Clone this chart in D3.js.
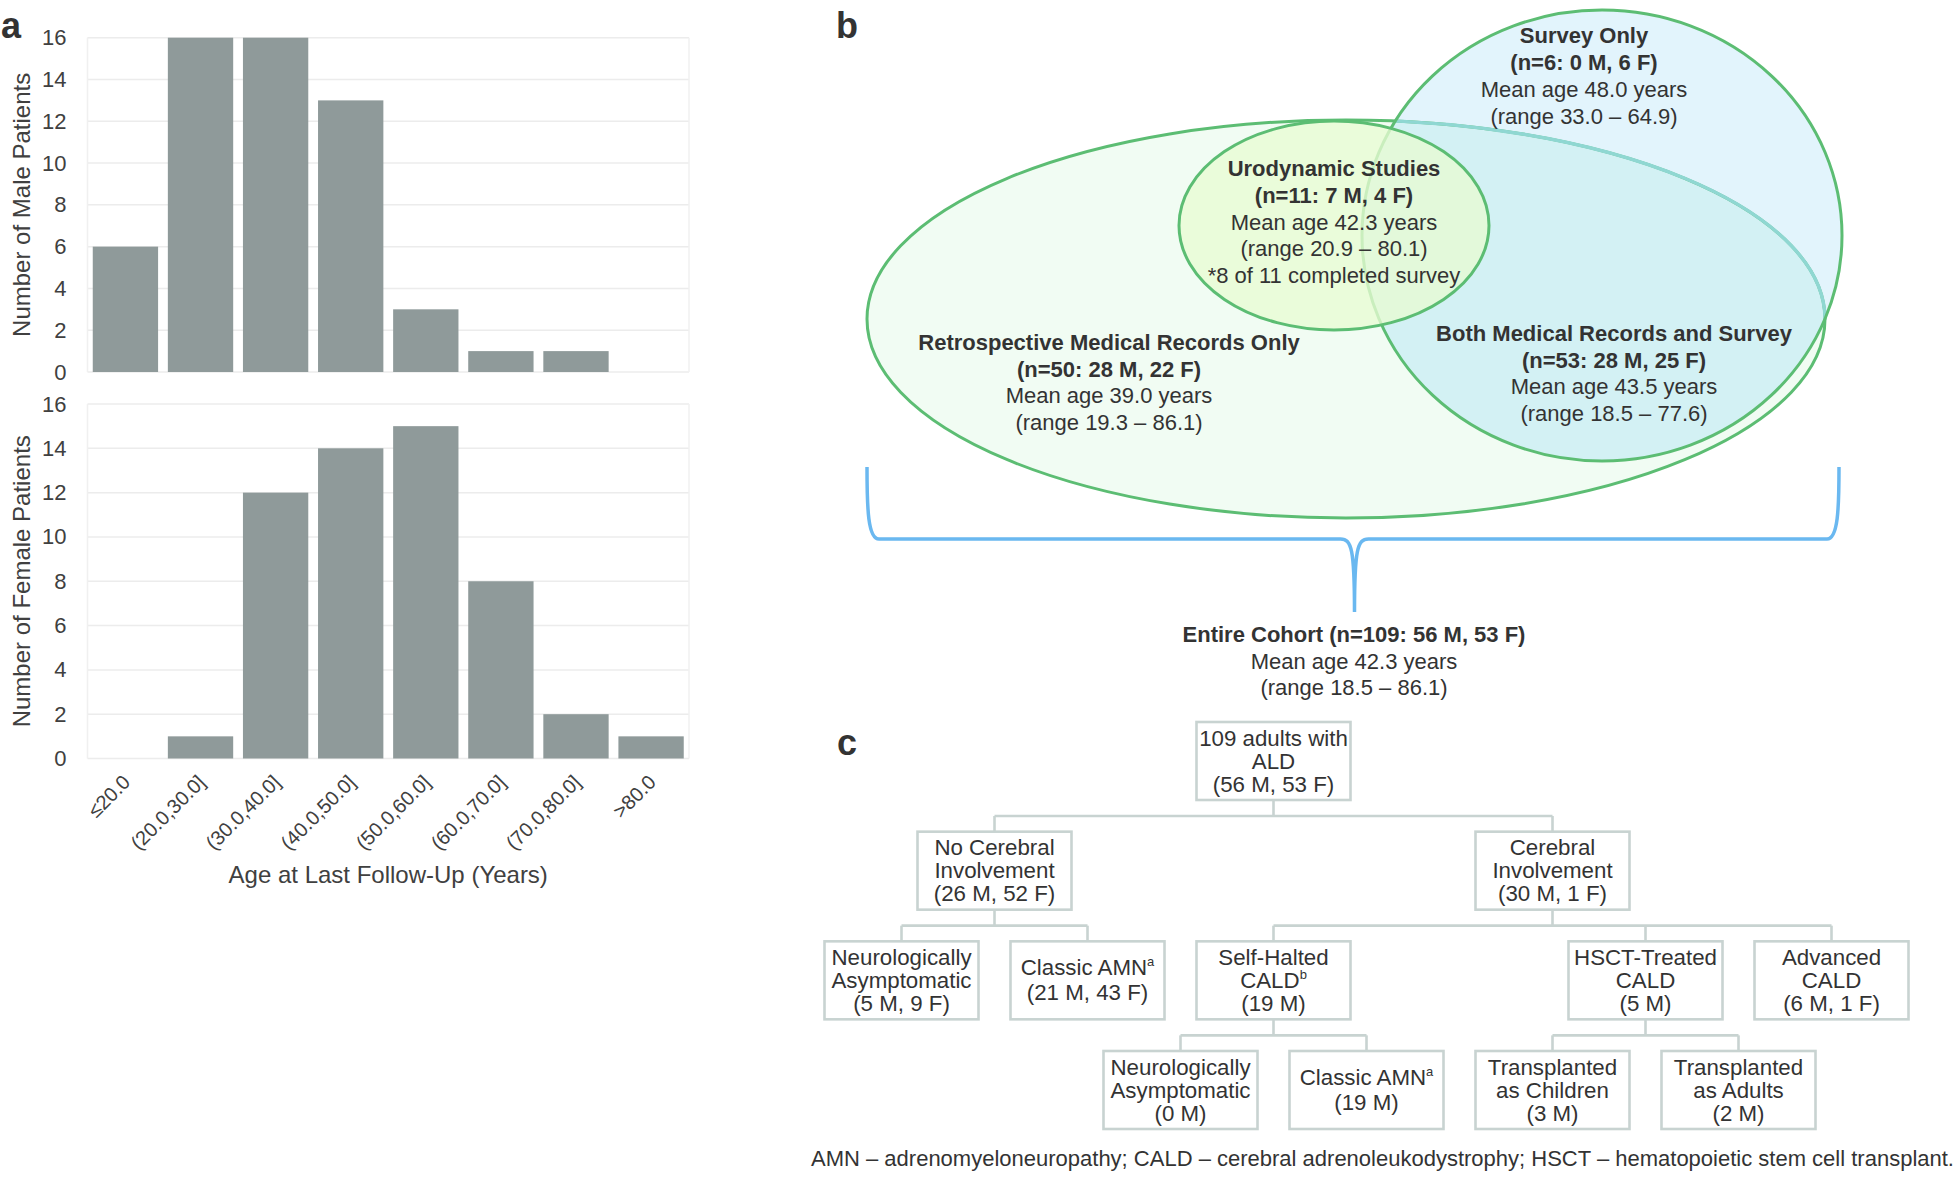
<!DOCTYPE html>
<html>
<head>
<meta charset="utf-8">
<script src="https://cdn.jsdelivr.net/npm/d3@7"></script>
<style>
  body { margin: 0; background: #fff; }
  svg { display: block; font-family: "Liberation Sans", Arial, sans-serif; }
</style>
</head>
<body>
<svg id="fig" width="1960" height="1178"></svg>
<script>
// ---- panel a: age histograms
const ageBins = ["≤20.0", "(20.0,30.0]", "(30.0,40.0]", "(40.0,50.0]", "(50.0,60.0]", "(60.0,70.0]", "(70.0,80.0]", ">80.0"];
const maleCounts = [6, 16, 16, 13, 3, 1, 1, 0];
const femaleCounts = [0, 1, 12, 14, 15, 8, 2, 1];
const yTicks = [0, 2, 4, 6, 8, 10, 12, 14, 16];

// ---- panel b: venn labels (first two lines of each are bold)
const surveyOnlyText = ["Survey Only", "(n=6: 0 M, 6 F)", "Mean age 48.0 years", "(range 33.0 – 64.9)"];
const urodynamicText = ["Urodynamic Studies", "(n=11: 7 M, 4 F)", "Mean age 42.3 years", "(range 20.9 – 80.1)", "*8 of 11 completed survey"];
const recordsOnlyText = ["Retrospective Medical Records Only", "(n=50: 28 M, 22 F)", "Mean age 39.0 years", "(range 19.3 – 86.1)"];
const bothText = ["Both Medical Records and Survey", "(n=53: 28 M, 25 F)", "Mean age 43.5 years", "(range 18.5 – 77.6)"];
const cohortText = ["Entire Cohort (n=109: 56 M, 53 F)", "Mean age 42.3 years", "(range 18.5 – 86.1)"];

// ---- panel c: flow chart nodes
const treeNodes = [
  { id: "root", parent: "", lines: ["109 adults with", "ALD", "(56 M, 53 F)"] },
  { id: "noCer", parent: "root", lines: ["No Cerebral", "Involvement", "(26 M, 52 F)"] },
  { id: "cer", parent: "root", lines: ["Cerebral", "Involvement", "(30 M, 1 F)"] },
  { id: "asym", parent: "noCer", lines: ["Neurologically", "Asymptomatic", "(5 M, 9 F)"] },
  { id: "amn", parent: "noCer", lines: ["Classic AMN^a", "(21 M, 43 F)"] },
  { id: "halted", parent: "cer", lines: ["Self-Halted", "CALD^b", "(19 M)"] },
  { id: "hsct", parent: "cer", lines: ["HSCT-Treated", "CALD", "(5 M)"] },
  { id: "adv", parent: "cer", lines: ["Advanced", "CALD", "(6 M, 1 F)"] },
  { id: "asym2", parent: "halted", lines: ["Neurologically", "Asymptomatic", "(0 M)"] },
  { id: "amn2", parent: "halted", lines: ["Classic AMN^a", "(19 M)"] },
  { id: "kids", parent: "hsct", lines: ["Transplanted", "as Children", "(3 M)"] },
  { id: "adults", parent: "hsct", lines: ["Transplanted", "as Adults", "(2 M)"] }
];
const footnote = "AMN – adrenomyeloneuropathy; CALD – cerebral adrenoleukodystrophy; HSCT – hematopoietic stem cell transplant.";

const svg = d3.select("#fig");
const ink = "#333";

// panel letters
[["a", 1, 38], ["b", 836, 38], ["c", 837, 755]].forEach(function(p) {
  svg.append("text").text(p[0]).attr("x", p[1]).attr("y", p[2])
    .attr("font-size", 36).attr("font-weight", "bold").attr("fill", ink);
});

// ================= panel a =================
const plotL = 87.5, plotR = 689;
const x = d3.scaleBand().domain(ageBins).range([plotL, plotR]).paddingInner(0.13).paddingOuter(0.07);

function histogram(values, top, bottom, title, showX) {
  const y = d3.scaleLinear().domain([0, 16]).range([bottom, top]);
  const g = svg.append("g");

  g.selectAll("line.grid").data(yTicks).join("line")
    .attr("x1", plotL).attr("x2", plotR)
    .attr("y1", d => y(d)).attr("y2", d => y(d))
    .attr("stroke", "#ececec").attr("stroke-width", 1.5);
  [plotL, plotR].forEach(function(px) {
    g.append("line").attr("x1", px).attr("x2", px).attr("y1", top).attr("y2", bottom)
      .attr("stroke", "#f0f0f0").attr("stroke-width", 1.5);
  });

  g.selectAll("rect").data(values).join("rect")
    .attr("x", (d, i) => x(ageBins[i]))
    .attr("width", x.bandwidth())
    .attr("y", d => y(d))
    .attr("height", d => y(0) - y(d))
    .attr("fill", "#8f9a9a");

  const ay = g.append("g").attr("transform", "translate(" + plotL + ",0)")
    .call(d3.axisLeft(y).tickValues(yTicks).tickSize(0).tickPadding(21));
  ay.select(".domain").remove();
  ay.attr("font-family", null).attr("font-size", null);
  ay.selectAll("text").attr("font-size", 22).attr("fill", "#404040");

  g.append("text").text(title)
    .attr("transform", "translate(30," + ((top + bottom) / 2) + ")rotate(-90)")
    .attr("text-anchor", "middle").attr("font-size", 24).attr("fill", "#404040");

  if (showX) {
    const ax = g.append("g").attr("transform", "translate(0," + bottom + ")")
      .call(d3.axisBottom(x).tickSize(0).tickPadding(0));
    ax.select(".domain").remove();
    ax.attr("font-family", null).attr("font-size", null);
    ax.selectAll("text")
      .attr("font-size", 20).attr("fill", "#404040")
      .attr("text-anchor", "end").attr("dy", null).attr("y", 0)
      .attr("transform", "translate(6,25)rotate(-45)");
    g.append("text").text("Age at Last Follow-Up (Years)")
      .attr("x", (plotL + plotR) / 2).attr("y", 883)
      .attr("text-anchor", "middle").attr("font-size", 24).attr("fill", "#404040");
  }
}
histogram(maleCounts, 37.7, 372, "Number of Male Patients", false);
histogram(femaleCounts, 404, 758.5, "Number of Female Patients", true);

// ================= panel b =================
const green = "#5cbd73";
const big = { cx: 1346, cy: 319, rx: 479, ry: 199 };
const survey = { cx: 1602, cy: 235.5, rx: 240, ry: 225.5 };
const uro = { cx: 1334, cy: 225.5, rx: 155, ry: 104.5 };

const defs = svg.append("defs");
defs.append("clipPath").attr("id", "clipBig").append("ellipse").attr("cx", big.cx).attr("cy", big.cy).attr("rx", big.rx).attr("ry", big.ry);
defs.append("clipPath").attr("id", "clipSurvey").append("ellipse").attr("cx", survey.cx).attr("cy", survey.cy).attr("rx", survey.rx).attr("ry", survey.ry);

function ell(e) {
  return svg.append("ellipse").attr("cx", e.cx).attr("cy", e.cy).attr("rx", e.rx).attr("ry", e.ry);
}
ell(big).attr("fill", "#f1fcf3");
ell(survey).attr("fill", "#e2f4fc");
ell(survey).attr("fill", "#d3f1f4").attr("clip-path", "url(#clipBig)");
ell(big).attr("fill", "none").attr("stroke", green).attr("stroke-width", 3);
ell(big).attr("fill", "none").attr("stroke", "#8fd7d2").attr("stroke-width", 3.4).attr("clip-path", "url(#clipSurvey)");
ell(survey).attr("fill", "none").attr("stroke", green).attr("stroke-width", 3);
ell(uro).attr("fill", "#e8fbd2").attr("fill-opacity", 0.78).attr("stroke", green).attr("stroke-width", 3);

function block(lines, cx, y0, step, nBold) {
  lines.forEach(function(t, i) {
    svg.append("text").text(t)
      .attr("x", cx).attr("y", y0 + i * step)
      .attr("text-anchor", "middle").attr("font-size", 22)
      .attr("font-weight", i < nBold ? "bold" : "normal")
      .attr("fill", ink);
  });
}
block(surveyOnlyText, 1584, 43, 27, 2);
block(urodynamicText, 1334, 176, 26.8, 2);
block(recordsOnlyText, 1109, 350, 26.7, 2);
block(bothText, 1614, 341, 26.7, 2);
block(cohortText, 1354, 642, 26.5, 1);

// brace under the venn
const bL = 867, bR = 1839, bTop = 467, bBar = 539, bMid = 1354.5, bTip = 612;
const brace = d3.path();
brace.moveTo(bL, bTop);
brace.bezierCurveTo(bL, bBar - 30, bL + 1, bBar, bL + 12, bBar);
brace.lineTo(bMid - 14, bBar);
brace.bezierCurveTo(bMid - 3, bBar, bMid, bBar + 10, bMid, bTip);
brace.bezierCurveTo(bMid, bBar + 10, bMid + 3, bBar, bMid + 14, bBar);
brace.lineTo(bR - 12, bBar);
brace.bezierCurveTo(bR - 1, bBar, bR, bBar - 30, bR, bTop);
svg.append("path").attr("d", brace.toString())
  .attr("fill", "none").attr("stroke", "#6ab8f0").attr("stroke-width", 3.5);

// ================= panel c =================
const nodeCol = { root: 4, noCer: 1, cer: 7, asym: 0, amn: 2, halted: 4, hsct: 8, adv: 10, asym2: 3, amn2: 5, kids: 7, adults: 9 };
const root = d3.stratify().id(d => d.id).parentId(d => d.parent || null)(treeNodes);
const colX = d3.scaleLinear().domain([0, 10]).range([901.5, 1831.5]);
const levelY = d3.scaleLinear().domain([0, 3]).range([722, 1051]);
const boxW = 154, boxH = 78, busGap = 16;
const boxStroke = "#c8d3d1";

const links = svg.append("g").attr("fill", "none").attr("stroke", boxStroke).attr("stroke-width", 2.6);
root.each(function(n) {
  if (!n.children) return;
  const px = colX(nodeCol[n.id]), pBottom = levelY(n.depth) + boxH;
  const busY = pBottom + busGap;
  const xs = n.children.map(c => colX(nodeCol[c.id]));
  links.append("line").attr("x1", px).attr("x2", px).attr("y1", pBottom).attr("y2", busY);
  links.append("line").attr("x1", d3.min(xs)).attr("x2", d3.max(xs)).attr("y1", busY).attr("y2", busY);
  xs.forEach(function(cx) {
    links.append("line").attr("x1", cx).attr("x2", cx).attr("y1", busY).attr("y2", levelY(n.depth + 1));
  });
});

const boxes = svg.selectAll("g.node").data(root.descendants()).join("g")
  .attr("class", "node")
  .attr("transform", d => "translate(" + colX(nodeCol[d.id]) + "," + levelY(d.depth) + ")");
boxes.append("rect")
  .attr("x", -boxW / 2).attr("y", 0).attr("width", boxW).attr("height", boxH)
  .attr("fill", "#fff").attr("stroke", boxStroke).attr("stroke-width", 2.6);
boxes.each(function(d) {
  const lines = d.data.lines;
  const lh = lines.length === 3 ? 23 : 25;
  const y0 = boxH / 2 - (lines.length - 1) * lh / 2 + 7.5;
  lines.forEach(function(t, i) {
    const parts = t.split("^");
    const tx = d3.select(this).append("text")
      .attr("x", 0).attr("y", y0 + i * lh)
      .attr("text-anchor", "middle").attr("font-size", 22.3).attr("fill", ink);
    tx.append("tspan").text(parts[0]);
    if (parts[1]) tx.append("tspan").text(parts[1]).attr("font-size", 13).attr("dy", -9);
  }, this);
});

svg.append("text").text(footnote)
  .attr("x", 811).attr("y", 1166)
  .attr("font-size", 22).attr("fill", ink);
</script>
</body>
</html>
